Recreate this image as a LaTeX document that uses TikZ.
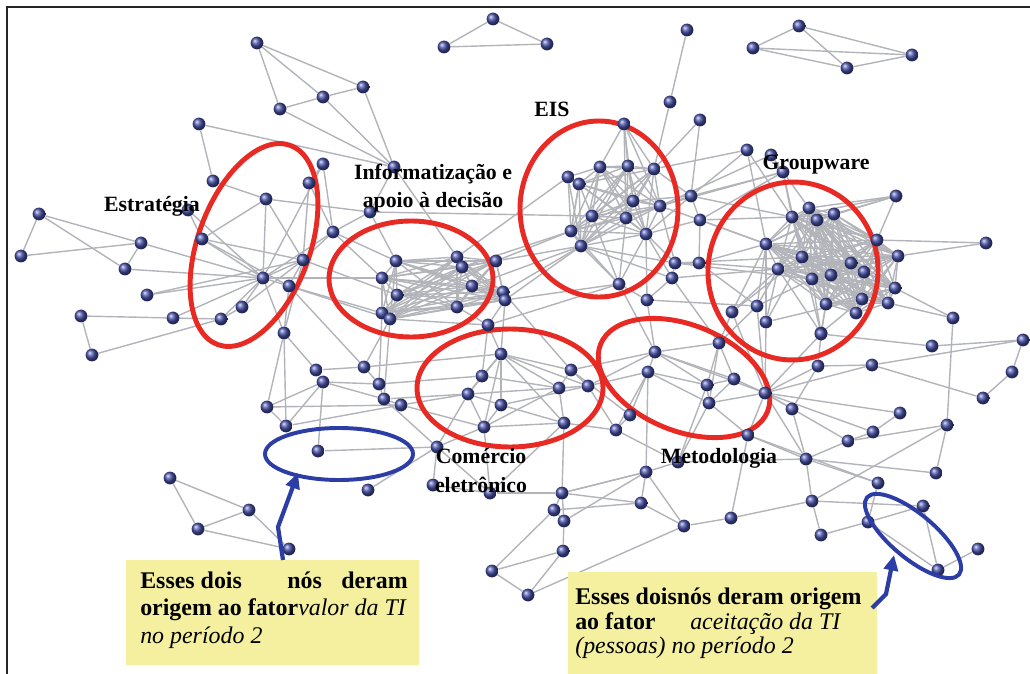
\documentclass[tikz,border=0pt]{standalone}
\usepackage{fontspec}
\setmainfont{Liberation Serif}
\usetikzlibrary{backgrounds,arrows.meta}
\definecolor{edgegrey}{RGB}{178,180,185}
\definecolor{ballblue}{RGB}{68,78,165}
\definecolor{ringred}{RGB}{232,42,36}
\definecolor{ringblue}{RGB}{44,62,165}
\definecolor{noteyellow}{RGB}{244,240,160}
\begin{document}
\begin{tikzpicture}[x=0.025cm,y=-0.025cm,
  ball/.style={circle,inner sep=0pt,minimum size=0.32cm,ball color=ballblue},
  edge/.style={draw=edgegrey,line width=1pt},
  redring/.style={draw=ringred,line width=3.5pt},
  bluering/.style={draw=ringblue,line width=2.8pt},
  topic/.style={font=\fontsize{15.5}{17}\selectfont\bfseries,inner sep=0pt,anchor=base},
  note/.style={fill=noteyellow,draw=none,inner sep=0pt,anchor=north west},
  notetext/.style={font=\fontsize{17}{19}\selectfont,inner sep=0pt,anchor=base west},
  pointer/.style={draw=ringblue,line width=3pt,-{Triangle[length=11pt,width=10pt]}},
  frameline/.style={draw=black!85,line width=1.4pt}]

\useasboundingbox (0,0) rectangle (1030,674);

% ---------- nodes ----------
\foreach \n/\x/\y in {
 t1/493/19, t2/444/47, t3/547/44,
 g1/799/26, g2/753/48, g3/912/55, g4/847/68,
 u1/687/30, u2/670/102, u3/700/120,
 a1/257/43, a2/323/97, a3/280/109, a4/199/124, a5/323/164, a6/213/181, a7/309/183, a8/266/199, a9/188/210, a10/202/239, a11/333/232, a12/303/260, a13/263/278, a14/289/286, a15/242/307, a16/221/319, a17/173/318, a18/284/333, a19/363/87, a20/370/212, a21/394/167,
 l1/39/214, l2/141/243, l3/21/256, l4/125/269, l5/147/295, l6/81/316, l7/92/355,
 i1/396/261, i2/457/257, i3/462/267, i4/382/278, i5/472/286, i6/397/295, i7/457/307, i8/382/313, i9/390/319, i10/496/261, i11/503/292, i12/505/300, i13/488/325,
 e1/624/124, e2/600/167, e3/628/166, e4/654/169, e5/568/177, e6/579/184, e7/633/201, e8/660/206, e9/592/216, e10/626/218, e11/571/231, e12/646/234, e13/581/246, e14/619/284, e15/691/196, e16/700/220, e17/675/263, e18/699/263, e19/672/278, e20/647/300,
 w1/747/150, w2/771/155, w3/783/172, w4/896/196, w7/792/217, w8/809/208, w9/817/220, w10/834/214, w11/766/244, w12/877/240, w13/986/243, w14/802/257, w15/898/256, w16/778/269, w17/851/263, w18/864/272, w19/812/279, w20/831/275, w22/895/288, w23/888/303, w24/862/299, w25/826/304, w26/757/306, w27/732/312, w28/856/313, w29/766/322, w30/953/318, w31/821/333,
 c1/501/354, c2/482/376, c3/571/370, c4/559/388, c5/588/386, c6/468/394, c7/501/405, c8/484/427, c9/564/423, c10/364/367, c11/379/384, c12/384/399, c13/401/405, c14/437/447, c15/433/485, c16/490/493, c17/562/493, c18/554/510, c19/564/521, c20/563/551, c21/492/571, c22/528/595, c23/616/430, c24/630/415,
 m1/655/352, m2/648/372, m3/719/343, m4/707/385, m5/734/379, m6/709/403, m7/765/393, m8/792/409, m9/748/435, m10/646/472, m11/641/503, m12/684/526, m13/731/518, m14/678/462, m15/821/334, m16/932/346, m17/1023/340, m18/818/366, m19/872/365, m20/1012/372, m21/983/398, m22/900/413, m23/873/432, m24/848/441, m25/947/425, m26/806/459, m27/936/473, m28/878/483, m29/812/501, m30/923/506, m31/868/522, m32/821/535, m33/978/549, m34/938/570,
 b1/316/370, b2/323/382, b3/267/407, b4/286/426, b5/318/451, b6/170/478, b7/249/510, b8/198/529, b9/289/549, b11/368/490}
 \node[ball] (\n) at (\x,\y) {};

% ---------- connectors and red rings (behind the nodes) ----------
\begin{pgfonlayer}{background}
\foreach \a/\b in {
 t1/t2, t1/t3, t2/t3, g1/g2, g1/g3, g1/g4, g2/g3, g2/g4, g4/g3, u1/u2, u2/e4, u3/e4, u3/e15,
 a1/a3, a1/a2, a1/a19, a3/a2, a2/a19, a3/a21, a2/a21, a4/a6, a4/a21, a6/a8, a5/a7, a5/a11, a5/a13, a7/a12, a7/a11, a8/a12, a8/a20, a8/a13, a10/a8, a10/a13, a10/a14, a10/a12, a9/a13, a9/a10,
 l1/l2, l1/l3, l1/l4, l3/l2, l2/l4, l4/a13, l2/a13, l5/a13, l5/a12, l6/a17, l6/l7, l7/a16, a17/a16, a16/a15, a15/a13, a16/a13, a15/a12, a17/a13,
 a18/a13, a18/a14, a18/b1, a18/b3, a18/b4, a18/a12, a13/a11, a13/a12, a13/a14, a13/i4, a12/a11, a12/a14, a14/i8, a14/i9, a11/a20, a11/i1, a12/i6, a21/a20, a19/a21, a20/e9, a20/i1, a21/i2, a11/i4, a14/c10,
 b1/b2, b2/b3, b2/b4, b1/c10, b2/c11, b2/c12, b2/b5, b3/c13, b4/c13, b5/c14, b11/c14, b6/b7, b6/b8, b7/b8, b8/b9, b7/b9, b3/b4,
 i10/e13, i11/e13, i12/e13, i5/e13, i3/e11, i10/e11, i13/c1, i12/c1, i13/c2, i9/c10, i8/c11, i9/c12, i11/c3, i12/e14, i13/e14, i2/e5, i13/i7, i13/i9, i13/i12,
 e1/e2, e1/e3, e1/e4, e1/e7, e1/e10, e1/e8, e5/e6, e5/e2, e5/e11, e5/e13, e6/e11, e14/e13, e14/e10, e14/e12, e14/e9, e14/e11, e15/e8, e15/e4, e15/e12, e16/e8, e16/e12, e16/e15, e17/e12, e17/e8, e18/e16, e19/e12, e19/e17, e20/e12, e20/e14, e20/e19, e13/e17, e13/e19, e18/e17, e15/e7,
 e15/w1, e16/w7, e16/w11, e18/w11, e17/w14, e15/w3, e4/w1, e8/w2, e16/w3, e18/w16, e19/w16, e18/w26, e20/w26, e16/w14, e15/w7, e17/w19, e8/w3,
 w3/w7, w3/w8, w3/w14, w1/w7, w1/w11, w2/w3, w4/w8, w4/w10, w4/w12, w4/w7, w4/w9, w13/w12, w13/w15, w30/w23, w30/w22, w29/w11, w29/w16, w29/w14, w26/w16, w26/w11, w27/w11, w27/w14, w31/w19, w31/w24, w31/w25, w31/w14, w31/w16, w26/w19, w29/w24, w27/w16,
 c1/c2, c1/c6, c1/c7, c1/c3, c1/c5, c1/c9, c1/c4, c1/c8, c2/c6, c6/c7, c6/c8, c7/c9, c4/c3, c4/c5, c4/c9, c3/c5, c8/c9, c8/c7, c9/c17, c2/c4, c6/c4, c7/c5, c8/c4, c6/c12, c6/c13, c2/c11, c10/c11, c11/c12, c12/c13, c13/c8, c14/c6, c14/c12, c14/c8, c14/c16, c15/c14, c15/c16, c16/c17, c16/c8, c17/c18, c18/c19, c17/c19, c19/c20, c20/c22, c21/c22, c21/c20, c21/c18, c9/c23, c23/c24, c24/m2, c23/m2, c23/c5, c24/c3, c3/m1, c5/m1, c5/m2, c18/m11, c19/m10, c17/m10, c16/c9, c22/m12, c10/c1,
 m1/m2, m1/m3, m1/m4, m1/m5, m1/m7, m1/e20, m1/e14, m2/m4, m2/m6, m2/m10, m3/m4, m3/m5, m3/m6, m3/w27, m3/w26, m3/e19, m4/m5, m4/m6, m5/m6, m5/m7, m6/m7, m7/m8, m7/m9, m7/m18, m7/m15, m7/m22, m7/m24, m7/m26, m7/w26, m7/w29, m7/w27, m6/m9, m9/m26, m14/m26, m14/m10, m10/m11, m10/m12, m11/m12, m12/m13, m13/m9, m11/c17, m10/c17, m14/c23,
 m15/m18, m15/w31, m15/w25, m16/m17, m16/m15, m17/m20, m20/m21, m19/m18, m19/m21, m19/m7, m19/m17, m18/m8, m22/m23, m23/m24, m25/w30, m25/m24, m25/m27, m25/m29, m27/m26, m26/m28, m26/m29, m29/m30, m29/m32, m30/m31, m31/m34, m30/m34, m33/m34, m32/m31, m28/m31, m13/m29, m7/m23, m24/m26, m9/m28, m6/m14, m4/m14, m8/m26}
 \draw[edge] (\a) -- (\b);
\def\cliqueI{i1,i2,i3,i4,i5,i6,i7,i8,i9,i10,i11,i12}
\def\cliqueE{e2,e3,e4,e6,e7,e8,e9,e10,e11,e12,e13}
\def\cliqueW{w7,w8,w9,w10,w11,w12,w14,w15,w16,w17,w18,w19,w20,w22,w23,w24,w25,w28}
\foreach \p [count=\i] in \cliqueI {\foreach \q [count=\j] in \cliqueI {\ifnum\j>\i \draw[edge] (\p) -- (\q);\fi}}
\foreach \p [count=\i] in \cliqueE {\foreach \q [count=\j] in \cliqueE {\ifnum\j>\i \draw[edge] (\p) -- (\q);\fi}}
\foreach \p [count=\i] in \cliqueW {\foreach \q [count=\j] in \cliqueW {\ifnum\j>\i \draw[edge] (\p) -- (\q);\fi}}

% red rings
\draw[redring, rotate around={70:(254,245)}] (254,245) ellipse [x radius=106, y radius=56];
\draw[redring] (411,279) ellipse [x radius=82, y radius=58];
\draw[redring] (599,209) ellipse [x radius=79, y radius=88];
\draw[redring, rotate around={-5:(793,271)}] (793,271) ellipse [x radius=85, y radius=89];
\draw[redring] (510,388) ellipse [x radius=93, y radius=59];
\draw[redring, rotate around={-22:(684,378)}] (684,378) ellipse [x radius=90, y radius=53];
\end{pgfonlayer}

% ---------- blue rings ----------
\draw[bluering] (339,454) ellipse [x radius=74, y radius=26];
\draw[bluering, rotate around={-40:(913,536)}] (913,536) ellipse [x radius=60, y radius=22];

% ---------- frame ----------
\draw[frameline] (7,674) -- (7,7) -- (1030,7);

% ---------- notes ----------
\node[note, minimum width=7.325cm, minimum height=2.625cm] (lbox) at (126,560) {};
\node[note, minimum width=7.725cm, minimum height=2.6cm] (rbox) at (568,572) {};

\node[notetext] (n1a) at (140,588) {\bfseries Esses dois};
\node[notetext] (n1b) at (287,588) {\bfseries nós};
\node[notetext,anchor=base east] (n1c) at (408,588) {\bfseries deram};
\node[notetext] (n2) at (140,615) {\bfseries origem ao fator\mdseries\itshape valor da TI};
\node[notetext] (n3) at (140,643) {\itshape no período 2};

\node[notetext] (r1) at (575,604) {\bfseries Esses doisnós deram origem};
\node[notetext] (r2a) at (575,629) {\bfseries ao fator};
\node[notetext] (r2b) at (690,629) {\itshape aceitação da TI};
\node[notetext] (r3) at (575,653) {\itshape (pessoas) no período 2};

% ---------- pointers ----------
\coordinate (la0) at (283,560);
\coordinate (la1) at (278,527);
\coordinate (la2) at (298,473);
\coordinate (ra0) at (872,608);
\coordinate (ra1) at (886,594);
\coordinate (ra2) at (894,555);
\draw[pointer] (la0) -- (la1) -- (la2);
\draw[pointer] (ra0) -- (ra1) -- (ra2);

% ---------- topic labels ----------
\node[topic] (lstrat) at (152,212) {Estratégia};
\node[topic] (linf1) at (433,180) {Informatização e};
\node[topic] (linf2) at (433,208) {apoio à decisão};
\node[topic] (leis) at (552,117) {EIS};
\node[topic] (lgw) at (816,170) {Groupware};
\node[topic] (lcom1) at (481,463) {Comércio};
\node[topic] (lcom2) at (481,492) {eletrônico};
\node[topic] (lmet) at (719,463) {Metodologia};
\end{tikzpicture}
\end{document}
